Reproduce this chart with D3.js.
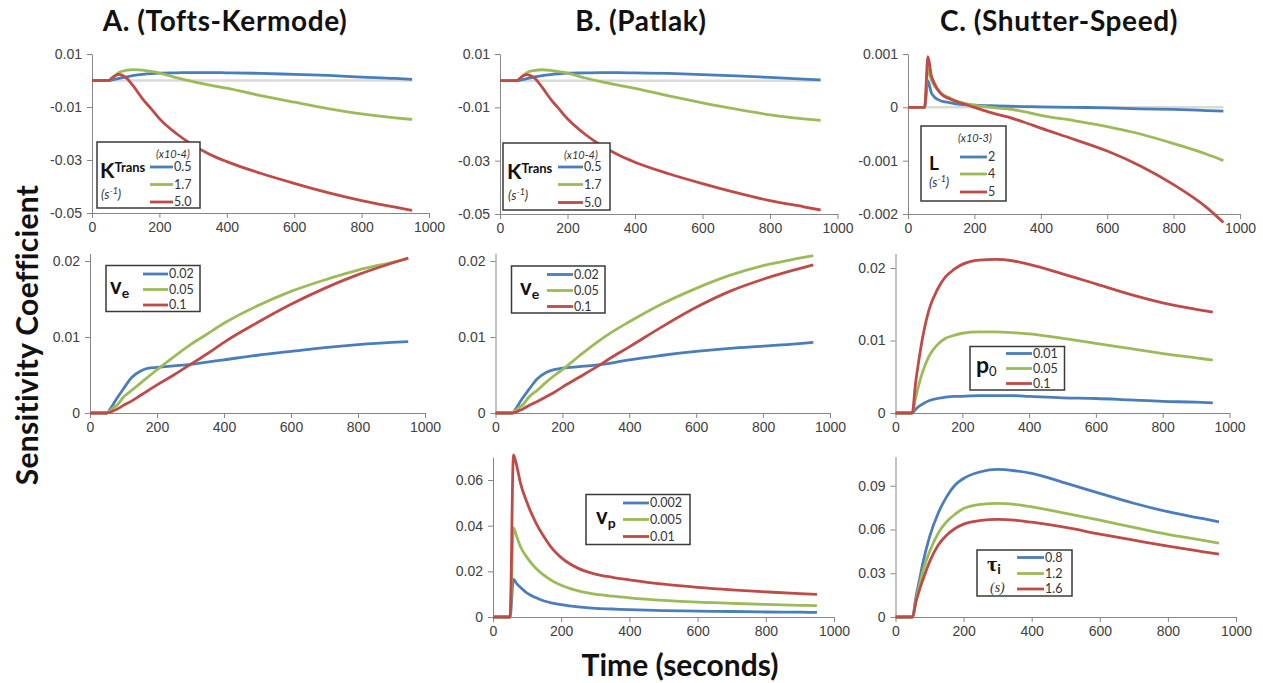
<!DOCTYPE html>
<html>
<head>
<meta charset="utf-8">
<script src="https://cdn.jsdelivr.net/npm/d3@7"></script>
<style>
  body { margin: 0; background: #fff; }
  svg { display: block; font-family: Lato, "Open Sans", sans-serif; }
  .tick text { font-size: 14px; fill: #404040; }
  .domain, .tick line { stroke: #868686; }
</style>
</head>
<body>
<svg id="chart" width="1263" height="683"></svg>
<script>
// ── Data ──────────────────────────────────────────────────────────────────────

const time = [0, 50, 60, 70, 80, 100, 125, 150, 175, 200, 250, 300, 350, 400, 500, 600, 700, 800, 900, 950];
const zeroTime = [0, 950];
const zeroLine = [0, 0];

// A. Tofts-Kermode
const tkKtrans05 = [0, 0, 0.0002, 0.0005, 0.0008, 0.0013, 0.0019, 0.0023, 0.0026, 0.0028, 0.0029, 0.003, 0.003, 0.0029, 0.0027, 0.0023, 0.0019, 0.0013, 0.0008, 0.0004];
const tkKtrans17 = [0, 0, 0.001, 0.002, 0.003, 0.0038, 0.0041, 0.0039, 0.0034, 0.0028, 0.0011, -0.0004, -0.0017, -0.0029, -0.0057, -0.0082, -0.0106, -0.0126, -0.0141, -0.0147];
const tkKtrans50 = [0, 0, 0.001, 0.0019, 0.0023, 0.0012, -0.0025, -0.0069, -0.0106, -0.0144, -0.02, -0.0244, -0.0279, -0.0306, -0.035, -0.0388, -0.0423, -0.0453, -0.0478, -0.049];
const tkVe002 = [0, 0, 0.0005, 0.0012, 0.0019, 0.0032, 0.0047, 0.0055, 0.0059, 0.006, 0.0062, 0.0064, 0.0067, 0.007, 0.0076, 0.0081, 0.0086, 0.009, 0.0093, 0.0094];
const tkVe005 = [0, 0, 0.0003, 0.0007, 0.001, 0.0021, 0.003, 0.0039, 0.0048, 0.0057, 0.0074, 0.009, 0.0104, 0.0118, 0.0141, 0.016, 0.0175, 0.0188, 0.0198, 0.0203];
const tkVe01  = [0, 0, 0.0001, 0.0003, 0.0005, 0.001, 0.0016, 0.0023, 0.003, 0.0037, 0.005, 0.0064, 0.0078, 0.0093, 0.0119, 0.0143, 0.0164, 0.0182, 0.0197, 0.0204];

// B. Patlak
const ptKtrans05 = [0, 0, 0.0002, 0.0005, 0.0008, 0.0013, 0.0019, 0.0023, 0.0026, 0.0028, 0.0029, 0.003, 0.003, 0.0029, 0.0027, 0.0023, 0.0018, 0.0012, 0.0006, 0.0003];
const ptKtrans17 = [0, 0, 0.001, 0.002, 0.003, 0.0038, 0.0041, 0.0039, 0.0034, 0.0028, 0.0011, -0.0004, -0.0017, -0.0029, -0.0057, -0.0083, -0.0107, -0.0128, -0.0143, -0.0149];
const ptKtrans50 = [0, 0, 0.001, 0.0019, 0.0023, 0.0012, -0.0025, -0.0069, -0.0106, -0.0143, -0.0199, -0.0243, -0.0278, -0.0306, -0.0349, -0.0386, -0.042, -0.045, -0.0473, -0.0485];
const ptVe002 = [0, 0, 0.0005, 0.0012, 0.0019, 0.0031, 0.0045, 0.0053, 0.0057, 0.0059, 0.0061, 0.0063, 0.0066, 0.007, 0.0076, 0.0081, 0.0085, 0.0088, 0.0091, 0.0093];
const ptVe005 = [0, 0, 0.0003, 0.0007, 0.001, 0.0021, 0.003, 0.004, 0.0049, 0.0057, 0.0075, 0.0092, 0.0107, 0.012, 0.0144, 0.0164, 0.0181, 0.0194, 0.0203, 0.0207];
const ptVe01  = [0, 0, 0.0001, 0.0003, 0.0005, 0.001, 0.0015, 0.0021, 0.0027, 0.0034, 0.0047, 0.006, 0.0074, 0.0087, 0.0114, 0.0139, 0.016, 0.0176, 0.0189, 0.0195];
const ptVp0002 = [0, 0, 0.0165, 0.0145, 0.013, 0.0105, 0.0085, 0.007, 0.0061, 0.0054, 0.0044, 0.0038, 0.0035, 0.0032, 0.0028, 0.0026, 0.0024, 0.0022, 0.0021, 0.002];
const ptVp0005 = [0, 0, 0.039, 0.035, 0.031, 0.026, 0.0215, 0.0182, 0.0157, 0.0139, 0.0114, 0.01, 0.0091, 0.0084, 0.0073, 0.0065, 0.006, 0.0055, 0.0051, 0.005];
const ptVp001  = [0, 0, 0.071, 0.066, 0.059, 0.05, 0.0415, 0.035, 0.0297, 0.026, 0.0213, 0.0188, 0.0174, 0.0163, 0.0144, 0.013, 0.0119, 0.011, 0.0102, 0.0099];

// C. Shutter-Speed
const ssL2 = [0, 0, 0.0005, 0.00028, 0.00019, 0.00012, 0.00009, 0.00006, 0.00005, 0.00004, 0.00003, 0.00002, 0.000015, 0.00001, 0, -0.00001, -0.00003, -0.00004, -0.00006, -0.00007];
const ssL4 = [0, 0, 0.00072, 0.00052, 0.0004, 0.00026, 0.00018, 0.00011, 0.00007, 0.00004, 0, -0.00003, -0.00008, -0.00015, -0.00025, -0.00036, -0.0005, -0.00068, -0.00088, -0.001];
const ssL5 = [0, 0, 0.00095, 0.0006, 0.00044, 0.00025, 0.00016, 0.0001, 0.00005, 0, -0.0001, -0.00018, -0.00028, -0.00039, -0.0006, -0.00082, -0.0011, -0.00145, -0.00188, -0.00216];
const ssP001 = [0, 0, 0.0005, 0.0009, 0.0012, 0.0017, 0.002, 0.0022, 0.0023, 0.0023, 0.0024, 0.0024, 0.0024, 0.0023, 0.0021, 0.002, 0.0018, 0.0016, 0.0015, 0.0014];
const ssP005 = [0, 0, 0.002, 0.0039, 0.0055, 0.0078, 0.0094, 0.0103, 0.0107, 0.011, 0.0112, 0.0112, 0.0111, 0.0109, 0.0103, 0.0096, 0.0089, 0.0082, 0.0076, 0.0073];
const ssP01  = [0, 0, 0.0041, 0.0073, 0.0101, 0.0142, 0.017, 0.0188, 0.0198, 0.0205, 0.0211, 0.0212, 0.021, 0.0205, 0.0192, 0.0178, 0.0164, 0.0152, 0.0143, 0.0139];
const ssTau08 = [0, 0, 0.0137, 0.025, 0.0366, 0.055, 0.071, 0.0824, 0.0905, 0.095, 0.0996, 0.1012, 0.1003, 0.0985, 0.0918, 0.0848, 0.078, 0.0722, 0.0676, 0.0653];
const ssTau12 = [0, 0, 0.0115, 0.0218, 0.031, 0.0447, 0.0573, 0.0653, 0.0705, 0.0744, 0.0772, 0.0779, 0.0772, 0.0756, 0.0711, 0.0664, 0.0614, 0.0566, 0.0527, 0.0506];
const ssTau16 = [0, 0, 0.0103, 0.0183, 0.0252, 0.0378, 0.0492, 0.0561, 0.0607, 0.0637, 0.0662, 0.0669, 0.0664, 0.065, 0.0614, 0.0569, 0.0527, 0.0486, 0.0449, 0.0431];

// legend labels
const ktransLabels = ["0.5", "1.7", "5.0"];
const veLabels     = ["0.02", "0.05", "0.1"];
const vpLabels     = ["0.002", "0.005", "0.01"];
const lLabels      = ["2", "4", "5"];
const p0Labels     = ["0.01", "0.05", "0.1"];
const tauLabels    = ["0.8", "1.2", "1.6"];

// axis ticks
const xTicks      = [0, 200, 400, 600, 800, 1000];
const ktransTicks = [0.01, -0.01, -0.03, -0.05];
const lTicks      = [0.001, 0, -0.001, -0.002];
const veTicks     = [0, 0.01, 0.02];
const vpTicks     = [0, 0.02, 0.04, 0.06];
const tauTicks    = [0, 0.03, 0.06, 0.09];

const colors = ["#4a7ebb", "#9bbb59", "#be4b48"];

// ── Helpers ──────────────────────────────────────────────────────────────────

const svg = d3.select("#chart");

function drawPanel(p) {
  const x = d3.scaleLinear().domain([0, 1000]).range([p.x0, p.x1]);
  const y = d3.scaleLinear().domain(p.yDomain).range([p.yBot, p.yTop]);
  const g = svg.append("g");

  const line = d3.line()
    .x(d => x(d[0]))
    .y(d => y(d[1]))
    .curve(d3.curveMonotoneX);

  if (p.zero) {
    g.append("path")
      .datum(d3.zip(zeroTime, zeroLine))
      .attr("d", line)
      .attr("fill", "none")
      .attr("stroke", "#d9d9d9")
      .attr("stroke-width", 2.5);
  }

  g.append("g")
    .attr("transform", `translate(0,${p.yBot})`)
    .call(d3.axisBottom(x).tickValues(xTicks).tickSize(5).tickSizeOuter(0).tickPadding(4).tickFormat(d3.format("d")));

  g.append("g")
    .attr("transform", `translate(${p.x0},0)`)
    .call(d3.axisLeft(y).tickValues(p.yTicks).tickSize(5).tickSizeOuter(0).tickPadding(5).tickFormat(d => String(+d.toFixed(4))));

  p.series.forEach((vals, i) => {
    g.append("path")
      .datum(d3.zip(time, vals))
      .attr("d", line)
      .attr("fill", "none")
      .attr("stroke", colors[i])
      .attr("stroke-width", 2.8)
      .attr("stroke-linejoin", "round");
  });

  const L = p.legend;
  const lg = g.append("g");
  lg.append("rect")
    .attr("x", L.x).attr("y", L.y).attr("width", L.w).attr("height", L.h)
    .attr("fill", "#fff").attr("stroke", "#3a3a3a").attr("stroke-width", 1.5);
  p.labels.forEach((lab, i) => {
    lg.append("line")
      .attr("x1", L.sx0).attr("x2", L.sx1).attr("y1", L.rows[i]).attr("y2", L.rows[i])
      .attr("stroke", colors[i]).attr("stroke-width", 2.8);
    lg.append("text")
      .attr("x", L.sx1 + 1).attr("y", L.rows[i]).attr("dy", "0.35em")
      .attr("font-size", 12.5).attr("fill", "#333").text(lab);
  });
  p.symbol(lg);
}

function ktransSymbol(x, y, noteX, noteY) {
  return lg => {
    const t = lg.append("text").attr("x", x).attr("y", y).attr("font-weight", "bold").attr("fill", "#111");
    t.append("tspan").attr("font-size", 21).text("K");
    t.append("tspan").attr("font-size", 13).attr("dy", -6).text("Trans");
    const s = lg.append("text").attr("x", x + 1).attr("y", y + 21).attr("font-style", "italic").attr("font-size", 13).attr("fill", "#333");
    s.append("tspan").text("(s");
    s.append("tspan").attr("font-size", 9).attr("dy", -5).text("-1");
    s.append("tspan").attr("dy", 5).text(")");
    lg.append("text").attr("x", noteX).attr("y", noteY).attr("font-style", "italic")
      .attr("font-size", 11).attr("fill", "#333").text("(x10-4)");
  };
}

function subSymbol(x, y, main, sub, mainSize, subSize, dy, subWeight) {
  return lg => {
    const t = lg.append("text").attr("x", x).attr("y", y).attr("font-weight", "bold").attr("fill", "#111");
    t.append("tspan").attr("font-size", mainSize).text(main);
    t.append("tspan").attr("font-size", subSize).attr("dy", dy).attr("font-weight", subWeight).text(sub);
  };
}

// ── Panels ───────────────────────────────────────────────────────────────────

const panels = [
  { // A row 1
    x0: 92, x1: 429, yTop: 54, yBot: 213, yDomain: [-0.05, 0.01], yTicks: ktransTicks, zero: true,
    series: [tkKtrans05, tkKtrans17, tkKtrans50], labels: ktransLabels,
    legend: { x: 97, y: 142, w: 103, h: 66, sx0: 150, sx1: 173, rows: [167, 184.5, 202] },
    symbol: ktransSymbol(100, 178, 156, 158)
  },
  { // B row 1
    x0: 500, x1: 837.5, yTop: 54, yBot: 214, yDomain: [-0.05, 0.01], yTicks: ktransTicks, zero: true,
    series: [ptKtrans05, ptKtrans17, ptKtrans50], labels: ktransLabels,
    legend: { x: 503, y: 143, w: 107, h: 67, sx0: 558, sx1: 583, rows: [167, 184.5, 202.5] },
    symbol: ktransSymbol(507, 179, 564, 159)
  },
  { // C row 1
    x0: 908, x1: 1240, yTop: 54, yBot: 214, yDomain: [-0.002, 0.001], yTicks: lTicks, zero: true,
    series: [ssL2, ssL4, ssL5], labels: lLabels,
    legend: { x: 921, y: 126, w: 85, h: 75, sx0: 960, sx1: 987, rows: [157, 174, 192] },
    symbol: lg => {
      lg.append("text").attr("x", 929).attr("y", 170).attr("font-weight", "bold").attr("font-size", 19).attr("fill", "#111").text("L");
      const s = lg.append("text").attr("x", 929).attr("y", 187).attr("font-style", "italic").attr("font-size", 13).attr("fill", "#333");
      s.append("tspan").text("(s");
      s.append("tspan").attr("font-size", 9).attr("dy", -5).text("-1");
      s.append("tspan").attr("dy", 5).text(")");
      lg.append("text").attr("x", 958).attr("y", 142).attr("font-style", "italic").attr("font-size", 11).attr("fill", "#333").text("(x10-3)");
    }
  },
  { // A row 2
    x0: 90, x1: 425, yTop: 253.4, yBot: 413, yDomain: [0, 0.021], yTicks: veTicks,
    series: [tkVe002, tkVe005, tkVe01], labels: veLabels,
    legend: { x: 106, y: 265.5, w: 94, h: 46, sx0: 143, sx1: 168, rows: [274, 289.5, 305] },
    symbol: subSymbol(110, 294, "v", "e", 22, 14, 4, "bold")
  },
  { // B row 2
    x0: 495.5, x1: 830, yTop: 253.4, yBot: 413, yDomain: [0, 0.021], yTicks: veTicks,
    series: [ptVe002, ptVe005, ptVe01], labels: veLabels,
    legend: { x: 511.5, y: 266, w: 93.5, h: 47, sx0: 547, sx1: 573, rows: [274.5, 290.5, 306.5] },
    symbol: subSymbol(520, 295, "v", "e", 22, 14, 4, "bold")
  },
  { // C row 2
    x0: 895.5, x1: 1229.5, yTop: 253.5, yBot: 413, yDomain: [0, 0.022], yTicks: veTicks,
    series: [ssP001, ssP005, ssP01], labels: p0Labels,
    legend: { x: 970, y: 346.5, w: 94.5, h: 43.5, sx0: 1006, sx1: 1032, rows: [353.5, 368.5, 383.5] },
    symbol: subSymbol(976, 373, "p", "0", 23, 13, 3, "normal")
  },
  { // B row 3
    x0: 493, x1: 834, yTop: 457.2, yBot: 617, yDomain: [0, 0.07], yTicks: vpTicks,
    series: [ptVp0002, ptVp0005, ptVp001], labels: vpLabels,
    legend: { x: 586, y: 494.5, w: 104, h: 50, sx0: 623, sx1: 649, rows: [503, 519.5, 536.5] },
    symbol: subSymbol(596, 524, "v", "p", 22, 14, 4, "bold")
  },
  { // C row 3
    x0: 895.5, x1: 1236, yTop: 456.6, yBot: 617, yDomain: [0, 0.11], yTicks: tauTicks,
    series: [ssTau08, ssTau12, ssTau16], labels: tauLabels,
    legend: { x: 977, y: 550, w: 95, h: 46, sx0: 1017, sx1: 1044, rows: [557.5, 573.5, 589] },
    symbol: lg => {
      const t = lg.append("text").attr("x", 987).attr("y", 571).attr("font-weight", "bold")
        .attr("font-family", "'Liberation Serif', 'DejaVu Serif', serif").attr("fill", "#111");
      t.append("tspan").attr("font-size", 22).text("τ");
      t.append("tspan").attr("font-size", 14).attr("dy", 3).attr("font-family", "Lato, sans-serif").text("i");
      lg.append("text").attr("x", 990).attr("y", 592).attr("font-style", "italic")
        .attr("font-family", "'Liberation Serif', serif").attr("font-size", 14).attr("fill", "#333").text("(s)");
    }
  }
];

panels.forEach(drawPanel);

// ── Titles ───────────────────────────────────────────────────────────────────

const titles = [
  { text: "A. (Tofts-Kermode)", x: 225 },
  { text: "B. (Patlak)", x: 641 },
  { text: "C. (Shutter-Speed)", x: 1059 }
];
svg.selectAll(".col-title").data(titles).enter().append("text")
  .attr("class", "col-title")
  .attr("x", d => d.x).attr("y", 31)
  .attr("text-anchor", "middle")
  .attr("font-size", 28).attr("font-weight", "bold").attr("fill", "#111")
  .attr("letter-spacing", 0.6)
  .text(d => d.text);

svg.append("text")
  .attr("transform", "translate(38,335) rotate(-90)")
  .attr("text-anchor", "middle")
  .attr("font-size", 30).attr("font-weight", "bold").attr("fill", "#111")
  .attr("letter-spacing", 0.3)
  .text("Sensitivity Coefficient");

svg.append("text")
  .attr("x", 680).attr("y", 676)
  .attr("text-anchor", "middle")
  .attr("font-size", 30).attr("font-weight", "bold").attr("fill", "#111")
  .text("Time (seconds)");
</script>
</body>
</html>
